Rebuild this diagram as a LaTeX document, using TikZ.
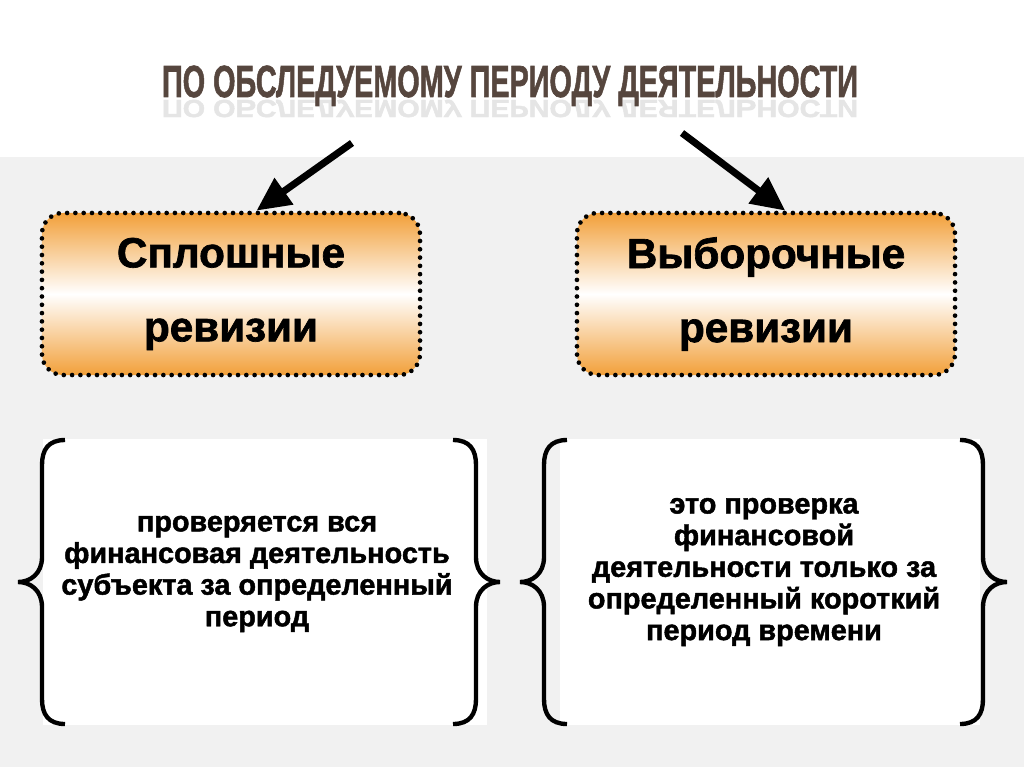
\documentclass[tikz,border=0pt]{standalone}
\usepackage{fontspec}
\setmainfont{Liberation Sans}
\newfontfamily\heavyfont{Liberation Sans}[BoldFeatures={FakeBold=1.6}]
\usetikzlibrary{arrows.meta}
\definecolor{boxorange}{RGB}{242,160,58}
\definecolor{titlebrown}{RGB}{86,70,62}
\definecolor{backgray}{RGB}{241,241,241}

\begin{document}
\begin{tikzpicture}[x=0.025cm,y=-0.025cm]
% node style definition
\tikzstyle{revbox} = [
	draw, rounded corners=15pt, line width=3.3pt,
	dash pattern=on 0pt off 5.9pt, line cap=round,
	top color=boxorange, bottom color=boxorange, middle color=white,
	minimum width=9.45cm, minimum height=4.05cm, align=center,
	font=\fontsize{30}{52.6}\selectfont\heavyfont\bfseries ];
\tikzstyle{pane} = [fill=white, draw=none, minimum height=7.125cm];
\tikzstyle{note} = [align=center, font=\fontsize{20.5}{22.5}\selectfont\heavyfont\bfseries];
\tikzstyle{heading} = [anchor=base, xscale=0.64,
	font=\fontsize{32}{34}\selectfont\heavyfont\bfseries];
\tikzstyle{pointer} = [line width=5pt, -{Triangle[length=24pt,width=22pt]}];
\tikzset{openbr/.pic={
	\draw[line width=3.1pt] (47,-142) .. controls (30,-142) and (24,-132) .. (24,-117)
		-- (24,-25) .. controls (24,-8) and (12,0) .. (0,0)
		.. controls (12,0) and (24,8) .. (24,25)
		-- (24,117) .. controls (24,132) and (30,142) .. (47,142);
}}
% background
\useasboundingbox (0,0) rectangle (1024,767);
\fill[white] (0,0) rectangle (1024,157);
\fill[backgray] (0,157) rectangle (1024,767);
% title with its reflection
\node[heading, yscale=-0.55, text=black!10] (shadow) at (510,100)
	{ПО ОБСЛЕДУЕМОМУ ПЕРИОДУ ДЕЯТЕЛЬНОСТИ};
\node[heading, text=titlebrown] (title) at (510,97)
	{ПО ОБСЛЕДУЕМОМУ ПЕРИОДУ ДЕЯТЕЛЬНОСТИ};
% the two kinds of audit
\node[revbox] (lbox) at (231,294) { Сплошные\\ревизии };
\node[revbox] (rbox) at (766,294) { Выборочные\\ревизии };
\coordinate (lfrom) at (352,143);
\coordinate (rfrom) at (682,133);
\draw[pointer] (lfrom) -- (lbox.73);
\draw[pointer] (rfrom) -- (rbox.77);
% explanations
\node[pane, minimum width=11.1cm] (lpane) at (265,582) {};
\node[pane, minimum width=10.5cm] (rpane) at (770,582) {};
\node[note] (ltext) at (257,574)
	{ проверяется вся\\финансовая деятельность\\субъекта за определенный\\период };
\node[note] (rtext) at (764,572)
	{ это проверка\\финансовой\\деятельности только за\\определенный короткий\\период времени };
\pic at (18,582) {openbr};
\pic[xscale=-1] at (500,582) {openbr};
\pic at (520,582) {openbr};
\pic[xscale=-1] at (1007,582) {openbr};
\end{tikzpicture}
\end{document}
